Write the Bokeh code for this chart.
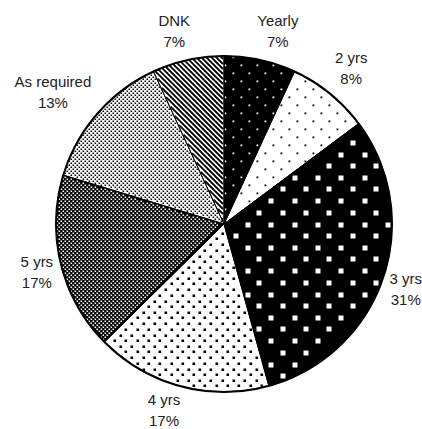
import math
import numpy as np
from bokeh.plotting import figure
from bokeh.models import ColumnDataSource, Range1d
from bokeh.core.properties import value
from bokeh.embed import file_html
from bokeh.resources import INLINE

# ---- data ----
categories = ["Yearly", "2 yrs", "3 yrs", "4 yrs", "5 yrs", "As required", "DNK"]
shares = [6.9, 7.9, 30.9, 16.9, 17.1, 13.4, 6.9]          # percent of respondents (estimated)
pct_labels = ["7%", "8%", "31%", "17%", "17%", "13%", "7%"]

# ---- styles (per category): wedge fill + texture ----
style = {
    "Yearly":      dict(fill="#000000", kind="dots", color="#ffffff", period=16.0, size=1.8),
    "2 yrs":       dict(fill="#ffffff", kind="dots", color="#000000", period=16.0, size=1.8),
    "3 yrs":       dict(fill="#000000", kind="dots", color="#ffffff", period=23.3, size=5.0),
    "4 yrs":       dict(fill="#ffffff", kind="dots", color="#000000", period=11.3, size=2.6),
    "5 yrs":       dict(fill="#000000", kind="dots", color="#ffffff", period=4.0, size=1.6),
    "As required": dict(fill="#ffffff", kind="dots", color="#000000", period=4.0, size=1.6),
    "DNK":         dict(fill="#ffffff", kind="lines", color="#000000", period=5.0, size=1.8),
}

W, H = 422, 429
SCX, SCY = 223.5, 223.5          # pie centre in screen pixels
CX, CY = SCX, H - SCY            # pie centre in data units (1 unit = 1 px)
R = 168
FS = 15                          # label font size, px
LINE = 10.5                      # half line spacing of the two-line labels

total = float(sum(shares))
a0s, a1s = [], []                 # clockwise-from-top angles
acc = 0.0
for s in shares:
    a0s.append(2 * math.pi * acc / total)
    acc += s
    a1s.append(2 * math.pi * acc / total)

src = ColumnDataSource(dict(
    cat=categories,
    start=[math.pi / 2 - a for a in a0s],
    end=[math.pi / 2 - a for a in a1s],
    fill=[style[c]["fill"] for c in categories],
))


def inside(sx, sy, a0, a1, margin_r, margin_e):
    dx = sx - SCX
    dy = SCY - sy
    r = np.hypot(dx, dy)
    phi = np.mod(np.arctan2(dx, dy), 2 * np.pi)
    ok = (r < R - margin_r) & (phi >= a0) & (phi <= a1)
    ok &= (r * np.sin(np.clip(phi - a0, 0, np.pi)) > margin_e)
    ok &= (r * np.sin(np.clip(a1 - phi, 0, np.pi)) > margin_e)
    return ok


_EM = {"%": .889, " ": .278, "y": .5, "r": .333, "s": .5, "Y": .667, "l": .222, "A": .667,
       "i": .222, "D": .722, "N": .722, "K": .667}


def text_w(s):
    return sum(_EM.get(ch, .556) for ch in s) * FS


p = figure(width=W, height=H, output_backend="svg", toolbar_location=None,
           x_range=Range1d(0, W), y_range=Range1d(0, H), min_border=0)
p.axis.visible = False
p.grid.visible = False
p.outline_line_color = None
p.background_fill_color = "white"
p.border_fill_color = "white"

# slices
p.wedge(x=CX, y=CY, radius=R, start_angle="start", end_angle="end", direction="clock",
        source=src, fill_color="fill", line_color=None)

# textures (squares anchored at their top-left corner on the pixel lattice)
for c, a0, a1 in zip(categories, a0s, a1s):
    st = style[c]
    P, S = st["period"], st["size"]
    if st["kind"] == "dots":
        g = np.round(np.arange(-P * 2, W + P * 2, P))
        gx, gy = np.meshgrid(g, g)
        sx = np.concatenate([gx.ravel(), np.round(gx.ravel() + P / 2)])
        sy = np.concatenate([gy.ravel(), np.round(gy.ravel() + P / 2)])
        m = inside(sx + S / 2, sy + S / 2, a0, a1, S * 0.6, S * 0.75)
        sx, sy = sx[m], sy[m]
        p.quad(left=sx, right=sx + S, top=H - sy, bottom=H - sy - S,
               fill_color=st["color"], line_color=None)
    else:
        t = np.arange(SCX - R - 5, SCX + R + 5, 0.2)
        xs, ys = [], []
        for k in np.arange(-2 * W, 2 * W, P):
            lx, ly = t, t + k
            m = inside(lx, ly, a0, a1, 0.5, 0.8)
            if m.sum() < 2:
                continue
            idx = np.nonzero(m)[0]
            i0, i1 = idx[0], idx[-1]
            xs.append([lx[i0], lx[i1]])
            ys.append([H - ly[i0], H - ly[i1]])
        p.multi_line(xs=xs, ys=ys, line_color=st["color"], line_width=S)

# slice borders and outer rim
p.wedge(x=CX, y=CY, radius=R, start_angle="start", end_angle="end", direction="clock",
        source=src, fill_color=None, line_color="black", line_width=1)
p.circle(x=[CX], y=[CY], radius=R, fill_color=None, line_color="black", line_width=2)

# labels: anchored just outside the rim at the mid-angle, box pushed outwards
lx, ly = [], []
for c, pl, a0, a1 in zip(categories, pct_labels, a0s, a1s):
    m = (a0 + a1) / 2
    sxn, cyn = math.sin(m), math.cos(m)
    hw = 0.5 * max(text_w(c), text_w(pl))
    hh = 21
    ax = SCX + (R + 8) * sxn
    ay = SCY - (R + 8) * cyn
    x = ax + math.copysign(hw * min(1.0, 3.5 * abs(sxn)), sxn)
    y = ay - math.copysign(hh * min(1.0, 1.2 * abs(cyn)), cyn)
    x = min(max(x, hw + 0.5), W - hw - 0.5)
    y = min(max(y, LINE + 9), H - LINE - 9)
    lx.append(x)
    ly.append(H - y)

lab = ColumnDataSource(dict(x=lx, y=ly, name=categories, pct=pct_labels))
font = value("Liberation Sans")
p.text(x="x", y="y", text="name", source=lab, text_align="center", text_baseline="middle",
       y_offset=-LINE, text_font=font, text_font_size=f"{FS}px", text_color="#222222")
p.text(x="x", y="y", text="pct", source=lab, text_align="center", text_baseline="middle",
       y_offset=LINE, text_font=font, text_font_size=f"{FS}px", text_color="#222222")

open("out.html", "w").write(file_html(p, INLINE))
